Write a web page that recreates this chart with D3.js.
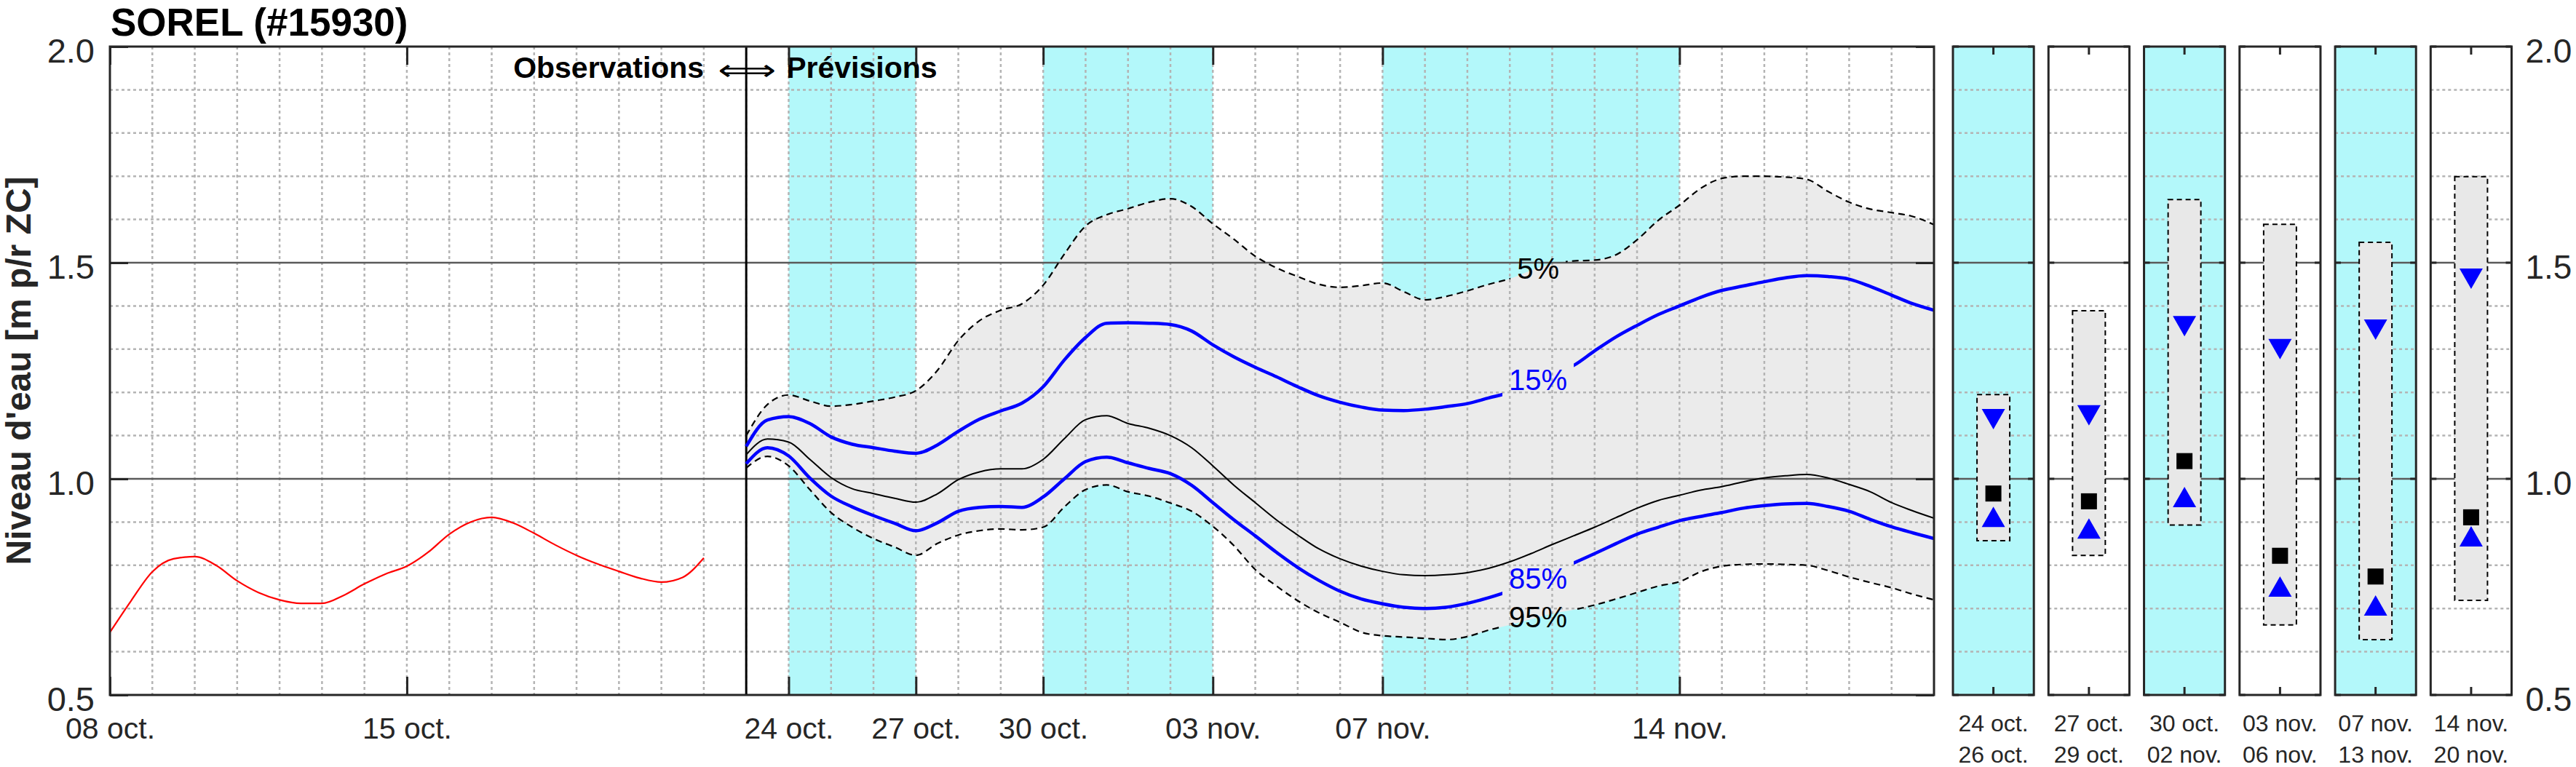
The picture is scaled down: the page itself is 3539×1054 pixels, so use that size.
<!DOCTYPE html>
<html><head><meta charset="utf-8">
<script src="https://cdnjs.cloudflare.com/ajax/libs/d3/7.8.5/d3.min.js"></script>
<style>html,body{margin:0;padding:0;background:#fff;}svg{display:block;}</style>
</head><body><svg id="chart" width="3539" height="1054"></svg>
<script>
// ---------------- DATA ----------------
const titleText = "SOREL (#15930)";
const yLabelText = "Niveau d'eau [m p/r ZC]";
const domainStart = "2023-10-08T00:00Z", domainEnd = "2023-11-20T00:00Z";
const forecastStartDate = "2023-10-23T00:00Z";

const obsStart = "2023-10-08T00:00Z", obsEnd = "2023-10-22T00:00Z";   // 12-hourly
const observed = [0.645,0.718,0.785,0.815,0.820,0.800,0.764,0.737,0.720,0.712,0.712,0.730,0.757,0.780,0.798,
  0.830,0.872,0.900,0.911,0.898,0.874,0.847,0.823,0.803,0.786,0.770,0.761,0.772,0.817];

const fcStart = "2023-10-23T00:00Z", fcEnd = "2023-11-20T00:00Z";     // 12-hourly
const q05 = [1.100,1.172,1.194,1.180,1.168,1.172,1.180,1.189,1.204,1.250,1.320,1.366,1.390,1.405,1.448,1.520,
  1.585,1.611,1.625,1.640,1.648,1.630,1.590,1.554,1.515,1.488,1.468,1.450,1.443,1.447,1.453,1.433,1.414,1.422,
  1.435,1.450,1.463,1.482,1.498,1.504,1.506,1.518,1.553,1.598,1.633,1.672,1.695,1.700,1.700,1.698,1.693,1.665,
  1.640,1.624,1.616,1.607,1.588];
const q15 = [1.075,1.136,1.144,1.128,1.097,1.080,1.072,1.064,1.059,1.078,1.110,1.138,1.157,1.175,1.213,1.275,
  1.327,1.360,1.361,1.360,1.357,1.342,1.310,1.282,1.258,1.236,1.213,1.192,1.177,1.166,1.159,1.158,1.161,1.167,
  1.174,1.187,1.200,1.222,1.243,1.262,1.296,1.328,1.355,1.380,1.400,1.420,1.436,1.446,1.456,1.465,1.470,1.468,
  1.462,1.445,1.425,1.405,1.390];
const q50 = [1.056,1.092,1.085,1.045,1.003,0.977,0.966,0.955,0.946,0.965,0.998,1.016,1.023,1.023,1.045,1.093,
  1.137,1.146,1.128,1.117,1.100,1.072,1.030,0.985,0.945,0.905,0.870,0.838,0.815,0.798,0.786,0.778,0.776,0.778,
  0.783,0.793,0.808,0.827,0.848,0.868,0.888,0.910,0.932,0.950,0.962,0.974,0.982,0.993,1.002,1.007,1.010,1.002,
  0.987,0.970,0.945,0.926,0.909];
const q85 = [1.035,1.072,1.053,1.002,0.960,0.935,0.915,0.897,0.880,0.898,0.925,0.934,0.936,0.934,0.958,1.000,
  1.040,1.050,1.037,1.024,1.012,0.985,0.945,0.905,0.868,0.830,0.795,0.765,0.740,0.722,0.711,0.703,0.700,0.703,
  0.712,0.725,0.741,0.762,0.785,0.805,0.827,0.850,0.872,0.888,0.903,0.913,0.922,0.932,0.938,0.942,0.943,0.936,
  0.925,0.906,0.889,0.875,0.862];
const q95 = [1.025,1.052,1.030,0.975,0.922,0.888,0.862,0.842,0.823,0.850,0.870,0.880,0.884,0.882,0.888,0.935,
  0.975,0.986,0.970,0.960,0.944,0.925,0.890,0.845,0.790,0.752,0.718,0.690,0.668,0.645,0.637,0.634,0.631,0.628,
  0.635,0.650,0.662,0.675,0.688,0.697,0.708,0.722,0.737,0.752,0.762,0.785,0.798,0.802,0.803,0.802,0.800,0.788,
  0.773,0.760,0.748,0.733,0.720];

const bandStarts = ["2023-10-24T00:00Z","2023-10-30T00:00Z","2023-11-07T00:00Z"];
const bandEnds   = ["2023-10-27T00:00Z","2023-11-03T00:00Z","2023-11-14T00:00Z"];

const xTickDates  = ["2023-10-08T00:00Z","2023-10-15T00:00Z","2023-10-24T00:00Z","2023-10-27T00:00Z",
                     "2023-10-30T00:00Z","2023-11-03T00:00Z","2023-11-07T00:00Z","2023-11-14T00:00Z"];
const xTickLabels = ["08 oct.","15 oct.","24 oct.","27 oct.","30 oct.","03 nov.","07 nov.","14 nov."];
const yMajorTicks = [0.5,1.0,1.5,2.0];
const yMinorTicks = [0.6,0.7,0.8,0.9,1.1,1.2,1.3,1.4,1.6,1.7,1.8,1.9];
const yLines = [1.0,1.5];

const curveLabels = ["5%","15%","85%","95%"];
const curveLabelDate = "2023-11-10T16:00Z";

// side panels (periods)
const periodFrom = ["24 oct.","27 oct.","30 oct.","03 nov.","07 nov.","14 nov."];
const periodTo   = ["26 oct.","29 oct.","02 nov.","06 nov.","13 nov.","20 nov."];
const periodShaded = [true,false,true,false,true,false];
const sideQ05 = [1.195,1.389,1.646,1.589,1.547,1.699];
const sideQ15 = [1.138,1.147,1.353,1.300,1.345,1.463];
const sideQ50 = [0.966,0.948,1.041,0.822,0.774,0.911];
const sideQ85 = [0.912,0.885,0.958,0.751,0.707,0.867];
const sideQ95 = [0.857,0.823,0.893,0.662,0.628,0.719];

// ---------------- STYLE ----------------
const FONT = "'Liberation Sans', Arial, Helvetica, sans-serif";
const AXC = "#262626", CYAN = "#b3f8fa", BAND = "#ebebeb", GRID = "#b4b4b4";

const svg = d3.select("#chart");
const M = {left:151, right:2657, top:64, bottom:955};
const x = d3.scaleUtc().domain([new Date(domainStart), new Date(domainEnd)]).range([M.left, M.right]);
const y = d3.scaleLinear().domain([0.5, 2.0]).range([M.bottom, M.top]);

const obsTimes = d3.utcHour.every(12).range(new Date(obsStart), d3.utcMinute.offset(new Date(obsEnd),1));
const fcTimes  = d3.utcHour.every(12).range(new Date(fcStart), d3.utcMinute.offset(new Date(fcEnd),1));

svg.append("rect").attr("width",3539).attr("height",1054).attr("fill","#fff");
const defs = svg.append("defs");
defs.append("clipPath").attr("id","mainClip").append("rect")
  .attr("x",M.left).attr("y",M.top).attr("width",M.right-M.left).attr("height",M.bottom-M.top);

const main = svg.append("g");
const plot = main.append("g").attr("clip-path","url(#mainClip)");

// cyan bands
plot.selectAll("rect.band").data(bandStarts).join("rect").attr("class","band")
  .attr("x",(d)=>x(new Date(d))).attr("width",(d,i)=>x(new Date(bandEnds[i]))-x(new Date(d)))
  .attr("y",M.top).attr("height",M.bottom-M.top).attr("fill",CYAN);

// uncertainty area
const fc = fcTimes.map((t,i)=>({t, a:q05[i], b:q95[i], q15:q15[i], q50:q50[i], q85:q85[i]}));
plot.append("path").datum(fc).attr("fill",BAND)
  .attr("d", d3.area().x(d=>x(d.t)).y0(d=>y(d.b)).y1(d=>y(d.a)).curve(d3.curveMonotoneX));

// grid
const days = d3.utcDay.range(d3.utcDay.offset(new Date(domainStart),1), new Date(domainEnd));
plot.selectAll("line.vg").data(days).join("line")
  .attr("x1",d=>x(d)).attr("x2",d=>x(d)).attr("y1",M.top).attr("y2",M.bottom)
  .attr("stroke",GRID).attr("stroke-width",2.5).attr("stroke-dasharray","4,4");
plot.selectAll("line.hg").data(yMinorTicks).join("line")
  .attr("x1",M.left).attr("x2",M.right).attr("y1",d=>y(d)).attr("y2",d=>y(d))
  .attr("stroke",GRID).attr("stroke-width",2.5).attr("stroke-dasharray","4,4");
plot.selectAll("line.hl").data(yLines).join("line")
  .attr("x1",M.left).attr("x2",M.right).attr("y1",d=>y(d)).attr("y2",d=>y(d))
  .attr("stroke","#5a5a5a").attr("stroke-width",2.5);

// boundary obs / forecast
plot.append("line").attr("x1",x(new Date(forecastStartDate))).attr("x2",x(new Date(forecastStartDate)))
  .attr("y1",M.top).attr("y2",M.bottom).attr("stroke","#000").attr("stroke-width",3);

// masks for labelled curves
const maskIds = ["m05","m15","m85","m95"];
const masks = maskIds.map(id=>{
  const m = defs.append("mask").attr("id",id).attr("maskUnits","userSpaceOnUse")
    .attr("x",0).attr("y",0).attr("width",3539).attr("height",1054);
  m.append("rect").attr("width",3539).attr("height",1054).attr("fill","#fff");
  return m;
});

const line = key => d3.line().x(d=>x(d.t)).y(d=>y(d[key])).curve(d3.curveMonotoneX);
plot.append("path").datum(fc).attr("d",line("a")).attr("fill","none").attr("stroke","#000")
  .attr("stroke-width",2.2).attr("stroke-dasharray","9,6").attr("mask","url(#m05)");
plot.append("path").datum(fc).attr("d",line("b")).attr("fill","none").attr("stroke","#000")
  .attr("stroke-width",2.2).attr("stroke-dasharray","9,6").attr("mask","url(#m95)");
plot.append("path").datum(fc).attr("d",line("q50")).attr("fill","none").attr("stroke","#000").attr("stroke-width",2);
plot.append("path").datum(fc).attr("d",line("q15")).attr("fill","none").attr("stroke","#0000ff")
  .attr("stroke-width",4.5).attr("mask","url(#m15)");
plot.append("path").datum(fc).attr("d",line("q85")).attr("fill","none").attr("stroke","#0000ff")
  .attr("stroke-width",4.5).attr("mask","url(#m85)");

// observed
const obs = obsTimes.map((t,i)=>({t, v:observed[i]}));
plot.append("path").datum(obs).attr("fill","none").attr("stroke","#ff0000").attr("stroke-width",2.2)
  .attr("d", d3.line().x(d=>x(d.t)).y(d=>y(d.v)).curve(d3.curveMonotoneX));

// curve labels
function valueAt(arr, t){
  const i = d3.bisector(d=>d).left(fcTimes, t);
  if (i<=0) return arr[0];
  const f = (t - fcTimes[i-1])/(fcTimes[i]-fcTimes[i-1]);
  return arr[i-1] + (arr[i]-arr[i-1])*f;
}
const tl = new Date(curveLabelDate);
const labSeries = [q05,q15,q85,q95], labColors = ["#000","#0000ff","#0000ff","#000"];
labSeries.forEach((s,i)=>{
  const t = main.append("text").attr("x",x(tl)).attr("y",y(valueAt(s,tl)))
    .attr("text-anchor","middle").attr("dominant-baseline","central")
    .attr("font-family",FONT).attr("font-size",40).attr("fill",labColors[i]).text(curveLabels[i]);
  const bb = t.node().getBBox();
  masks[i].append("rect").attr("x",bb.x-9).attr("y",bb.y-4).attr("width",bb.width+18).attr("height",bb.height+8).attr("fill","#000");
});

// Observations <=> Prévisions
const bx = x(new Date(forecastStartDate));
main.append("text").attr("x",bx-58).attr("y",107).attr("text-anchor","end")
  .attr("font-family",FONT).attr("font-weight","bold").attr("font-size",41).text("Observations");
main.append("text").attr("x",bx-39).attr("y",110).attr("textLength",80).attr("lengthAdjust","spacingAndGlyphs")
  .attr("font-family","'DejaVu Sans', sans-serif").attr("font-size",40).text("\u27FA");
main.append("text").attr("x",bx+55).attr("y",107).attr("text-anchor","start")
  .attr("font-family",FONT).attr("font-weight","bold").attr("font-size",41).text("Prévisions");

// axes
const gx = main.append("g").attr("transform",`translate(0,${M.bottom})`)
  .call(d3.axisBottom(x).tickValues(xTickDates.map(d=>new Date(d))).tickFormat((d,i)=>xTickLabels[i]).tickSizeInner(-25).tickSizeOuter(0));
const gxt = main.append("g").attr("transform",`translate(0,${M.top})`)
  .call(d3.axisTop(x).tickValues(xTickDates.map(d=>new Date(d))).tickFormat("").tickSizeInner(-25).tickSizeOuter(0));
const gyl = main.append("g").attr("transform",`translate(${M.left},0)`)
  .call(d3.axisLeft(y).tickValues(yMajorTicks).tickFormat(d3.format(".1f")).tickSizeInner(-25).tickSizeOuter(0));
const gyr = main.append("g").attr("transform",`translate(${M.right},0)`)
  .call(d3.axisRight(y).tickValues(yMajorTicks).tickFormat("").tickSizeInner(-25).tickSizeOuter(0));
[gx,gxt,gyl,gyr].forEach(g=>{
  g.select(".domain").remove();
  g.selectAll(".tick line").attr("stroke",AXC).attr("stroke-width",3);
  g.attr("font-family",FONT);
});
gx.selectAll(".tick text").attr("y",60).attr("dy",0).attr("font-size",41).attr("fill",AXC);
gyl.selectAll(".tick text").attr("x",-21).attr("dy",21).attr("font-size",47).attr("fill",AXC);

main.append("rect").attr("x",M.left).attr("y",M.top).attr("width",M.right-M.left).attr("height",M.bottom-M.top)
  .attr("fill","none").attr("stroke",AXC).attr("stroke-width",3);

// title & y label
svg.append("text").attr("x",152).attr("y",49).attr("font-family",FONT).attr("font-weight","bold")
  .attr("font-size",53).attr("fill","#000").text(titleText);
svg.append("text").attr("transform",`translate(42,${(M.top+M.bottom)/2}) rotate(-90)`).attr("text-anchor","middle")
  .attr("font-family",FONT).attr("font-weight","bold").attr("font-size",48).attr("fill",AXC).text(yLabelText);

// ---------------- SIDE PANELS ----------------
const sx = d3.scaleBand().domain(periodFrom).range([2683, 3450.5]).paddingInner(0.153).paddingOuter(0);
const bw = sx.bandwidth();
const triDown = "M-16,-14L16,-14L0,14Z", triUp = "M-16,14L16,14L0,-14Z";
periodFrom.forEach((p,i)=>{
  const g = svg.append("g").attr("transform",`translate(${sx(p)},0)`);
  const cx = bw/2;
  g.append("rect").attr("x",0).attr("y",M.top).attr("width",bw).attr("height",M.bottom-M.top)
    .attr("fill",periodShaded[i]?CYAN:"#fff");
  g.selectAll("line.hg").data(yMinorTicks).join("line")
    .attr("x1",0).attr("x2",bw).attr("y1",d=>y(d)).attr("y2",d=>y(d))
    .attr("stroke",GRID).attr("stroke-width",2.5).attr("stroke-dasharray","4,4");
  g.selectAll("line.hl").data(yLines).join("line")
    .attr("x1",0).attr("x2",bw).attr("y1",d=>y(d)).attr("y2",d=>y(d))
    .attr("stroke","#5a5a5a").attr("stroke-width",2.5);
  g.append("rect").attr("x",cx-22.5).attr("width",45).attr("y",y(sideQ05[i])).attr("height",y(sideQ95[i])-y(sideQ05[i]))
    .attr("fill","#e8e8e8").attr("stroke","#000").attr("stroke-width",2).attr("stroke-dasharray","7,5");
  g.append("path").attr("d",triDown).attr("transform",`translate(${cx},${y(sideQ15[i])})`).attr("fill","#0000ff");
  g.append("path").attr("d",triUp).attr("transform",`translate(${cx},${y(sideQ85[i])})`).attr("fill","#0000ff");
  g.append("rect").attr("x",cx-11).attr("y",y(sideQ50[i])-11).attr("width",22).attr("height",22).attr("fill","#000");
  // ticks
  g.selectAll("line.tl").data(yMajorTicks).join("line").attr("x1",0).attr("x2",8).attr("y1",d=>y(d)).attr("y2",d=>y(d))
    .attr("stroke",AXC).attr("stroke-width",3);
  g.selectAll("line.tr").data(yMajorTicks).join("line").attr("x1",bw-8).attr("x2",bw).attr("y1",d=>y(d)).attr("y2",d=>y(d))
    .attr("stroke",AXC).attr("stroke-width",3);
  g.append("line").attr("x1",cx).attr("x2",cx).attr("y1",M.top).attr("y2",M.top+11).attr("stroke",AXC).attr("stroke-width",3);
  g.append("line").attr("x1",cx).attr("x2",cx).attr("y1",M.bottom).attr("y2",M.bottom-11).attr("stroke",AXC).attr("stroke-width",3);
  g.append("rect").attr("x",0).attr("y",M.top).attr("width",bw).attr("height",M.bottom-M.top)
    .attr("fill","none").attr("stroke",AXC).attr("stroke-width",3);
  g.append("text").attr("x",cx).attr("y",1005).attr("text-anchor","middle").attr("font-family",FONT)
    .attr("font-size",32).attr("fill",AXC).text(periodFrom[i]);
  g.append("text").attr("x",cx).attr("y",1048).attr("text-anchor","middle").attr("font-family",FONT)
    .attr("font-size",32).attr("fill",AXC).text(periodTo[i]);
});
// right axis labels
const gr = svg.append("g").attr("transform",`translate(${sx(periodFrom[periodFrom.length-1])+bw},0)`)
  .call(d3.axisRight(y).tickValues(yMajorTicks).tickFormat(d3.format(".1f")).tickSize(0));
gr.select(".domain").remove();
gr.attr("font-family",FONT);
gr.selectAll(".tick text").attr("x",19).attr("dy",21).attr("font-size",46).attr("fill",AXC);
</script></body></html>
